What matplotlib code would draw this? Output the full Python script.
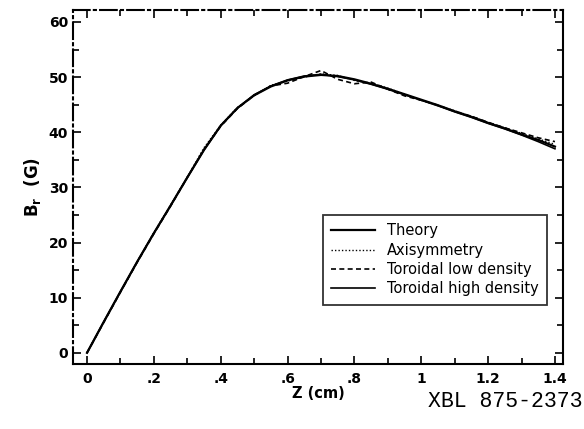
import matplotlib
matplotlib.use("Agg")
import matplotlib.pyplot as plt
from matplotlib.ticker import MultipleLocator

# values
z_cm = [0.0, 0.05, 0.1, 0.15, 0.2, 0.25, 0.3, 0.35, 0.4, 0.45, 0.5, 0.55, 0.6, 0.65,
        0.7, 0.75, 0.8, 0.85, 0.9, 0.95, 1.0, 1.05, 1.1, 1.15, 1.2, 1.25, 1.3, 1.35, 1.4]
theory = [0.0, 5.6, 11.1, 16.5, 21.7, 26.7, 31.8, 36.8, 41.2, 44.4, 46.7, 48.3, 49.4, 50.1,
          50.4, 50.2, 49.6, 48.8, 47.9, 46.9, 45.9, 44.9, 43.8, 42.8, 41.7, 40.7, 39.6, 38.6, 37.4]
axisymmetry = [0.0, 5.6, 11.0, 16.5, 21.8, 26.8, 31.9, 37.2, 41.3, 44.5, 46.6, 48.5, 49.3, 50.0,
               50.6, 50.3, 49.4, 48.9, 48.0, 46.9, 45.8, 44.8, 43.9, 42.9, 41.8, 40.8, 39.8, 38.8, 37.8]
toroidal_low = [0.0, 5.5, 11.0, 16.4, 21.6, 26.6, 31.8, 36.9, 41.1, 44.3, 46.7, 48.4, 48.9, 50.1,
                51.2, 49.6, 48.8, 49.1, 47.8, 46.6, 45.8, 44.9, 43.8, 42.9, 41.8, 40.8, 39.9, 39.0, 38.3]
toroidal_high = [0.0, 5.6, 11.1, 16.5, 21.7, 26.7, 31.8, 36.8, 41.2, 44.4, 46.8, 48.4, 49.5, 50.2,
                 50.5, 50.1, 49.5, 48.7, 47.8, 46.8, 45.8, 44.8, 43.7, 42.7, 41.6, 40.6, 39.5, 38.3, 37.0]

x_ticks = [0, 0.2, 0.4, 0.6, 0.8, 1.0, 1.2, 1.4]
x_tick_labels = ["0", ".2", ".4", ".6", ".8", "1", "1.2", "1.4"]
y_ticks = [0, 10, 20, 30, 40, 50, 60]

plt.rcParams["font.family"] = ["DejaVu Sans"]
plt.rcParams["mathtext.fontset"] = "dejavusans"

fig = plt.figure(figsize=(5.84, 4.29), dpi=100)
ax = fig.add_axes([0.125, 0.152, 0.839, 0.825])

ax.plot(z_cm, theory, color="black", linewidth=1.6, linestyle="-", label="Theory")
ax.plot(z_cm, axisymmetry, color="black", linewidth=1.0, linestyle=(0, (1, 1.5)),
        label="Axisymmetry")
ax.plot(z_cm, toroidal_low, color="black", linewidth=1.2, linestyle=(0, (3, 2)),
        label="Toroidal low density")
ax.plot(z_cm, toroidal_high, color="black", linewidth=1.2, linestyle="-",
        label="Toroidal high density")

ax.set_xlim(-0.042, 1.424)
ax.set_ylim(-2, 62.2)

ax.xaxis.set_major_locator(plt.FixedLocator(x_ticks))
ax.xaxis.set_major_formatter(plt.FixedFormatter(x_tick_labels))
ax.xaxis.set_minor_locator(MultipleLocator(0.1))
ax.yaxis.set_major_locator(plt.FixedLocator(y_ticks))
ax.yaxis.set_minor_locator(MultipleLocator(5))

ax.tick_params(which="both", direction="in", top=True, right=True, width=1.2,
               labelsize=10)
ax.tick_params(which="major", length=6)
ax.tick_params(which="minor", length=4)
ax.tick_params(axis="x", pad=6)
for lab in ax.get_xticklabels() + ax.get_yticklabels():
    lab.set_fontweight("bold")

for side in ["left", "top"]:
    ax.spines[side].set_linestyle((0, (8, 2, 1, 2)))
for side in ax.spines:
    ax.spines[side].set_linewidth(1.5)

ax.set_xlabel("Z (cm)", fontsize=10.5, fontweight="bold", labelpad=0)
ax.set_ylabel(r"$\mathbf{B_r}$  (G)", fontsize=12, fontweight="bold", labelpad=4)

leg = ax.legend(loc="lower right", bbox_to_anchor=(0.983, 0.145), frameon=True,
                fancybox=False, edgecolor="black", handlelength=3.0,
                borderpad=0.6, labelspacing=0.3, handletextpad=0.8,
                prop={"size": 10.5})
leg.get_frame().set_linewidth(1.3)

fig.text(0.997, 0.065, "XBL 875-2373", family="Liberation Mono", fontsize=15.5,
         ha="right", va="center")

fig.savefig("out.png", dpi=100)
